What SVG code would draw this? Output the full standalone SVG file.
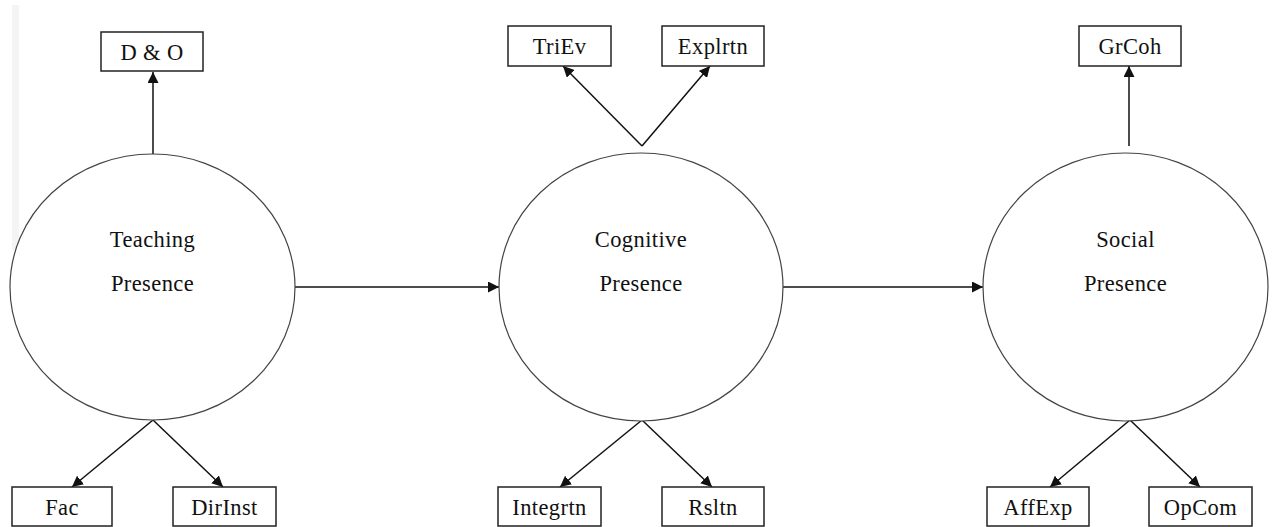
<svg xmlns="http://www.w3.org/2000/svg" width="1273" height="527" viewBox="0 0 1273 527">
<style>
.box{fill:#fff;stroke:#222;stroke-width:1.5}
.circ{fill:#fff;stroke:#444;stroke-width:1.2}
.lbl{font-family:"Liberation Serif","Times New Roman",serif;font-size:22.5px;letter-spacing:0.4px;fill:#111;text-anchor:middle}
.cn{stroke:#111;stroke-width:1.5;fill:none;marker-end:url(#ah)}
</style>
<defs>
<marker id="ah" viewBox="0 0 10 10" refX="10" refY="5" markerWidth="11" markerHeight="11" markerUnits="userSpaceOnUse" orient="auto">
<path d="M0,0 L10,5 L0,10 z" fill="#111"/>
</marker>
</defs>
<rect x="12" y="5" width="7" height="245" fill="#f4f4f4"/>
<g id="connectors">
<line class="cn" x1="153" y1="154" x2="153" y2="72"/>
<line class="cn" x1="642" y1="146" x2="563" y2="66"/>
<line class="cn" x1="642" y1="146" x2="710" y2="66"/>
<line class="cn" x1="1129" y1="146" x2="1129" y2="66"/>
<line class="cn" x1="153" y1="420" x2="72" y2="487"/>
<line class="cn" x1="153" y1="420" x2="223" y2="487"/>
<line class="cn" x1="642" y1="420" x2="560" y2="487"/>
<line class="cn" x1="642" y1="420" x2="712" y2="487"/>
<line class="cn" x1="1130" y1="420" x2="1050" y2="487"/>
<line class="cn" x1="1130" y1="420" x2="1200" y2="487"/>
<line class="cn" x1="295" y1="287" x2="499" y2="287"/>
<line class="cn" x1="783" y1="287" x2="983" y2="287"/>
</g>
<g id="teaching">
<ellipse class="circ" cx="152.5" cy="287" rx="142.5" ry="133"/>
<text class="lbl" x="152.5" y="247">Teaching</text>
<text class="lbl" x="152.5" y="291">Presence</text>
</g>
<g id="cognitive">
<ellipse class="circ" cx="641" cy="287" rx="142" ry="134"/>
<text class="lbl" x="641" y="247">Cognitive</text>
<text class="lbl" x="641" y="291">Presence</text>
</g>
<g id="social">
<ellipse class="circ" cx="1125.5" cy="287" rx="142.5" ry="134"/>
<text class="lbl" x="1125.5" y="247">Social</text>
<text class="lbl" x="1125.5" y="291">Presence</text>
</g>
<g id="do"><rect class="box" x="101" y="32" width="102" height="39"/><text class="lbl" x="152" y="60">D &amp; O</text></g>
<g id="triev"><rect class="box" x="508" y="26" width="103" height="40"/><text class="lbl" x="559.5" y="54">TriEv</text></g>
<g id="explrtn"><rect class="box" x="662" y="26" width="102" height="40"/><text class="lbl" x="713" y="54">Explrtn</text></g>
<g id="grcoh"><rect class="box" x="1079" y="26" width="102" height="40"/><text class="lbl" x="1130" y="54">GrCoh</text></g>
<g id="fac"><rect class="box" x="12" y="487" width="100" height="39"/><text class="lbl" x="62" y="515">Fac</text></g>
<g id="dirinst"><rect class="box" x="173" y="487" width="103" height="39"/><text class="lbl" x="224.5" y="515">DirInst</text></g>
<g id="integrtn"><rect class="box" x="498" y="487" width="103" height="39"/><text class="lbl" x="549.5" y="515">Integrtn</text></g>
<g id="rsltn"><rect class="box" x="662" y="487" width="102" height="39"/><text class="lbl" x="713" y="515">Rsltn</text></g>
<g id="affexp"><rect class="box" x="987" y="487" width="102" height="39"/><text class="lbl" x="1038" y="515">AffExp</text></g>
<g id="opcom"><rect class="box" x="1149" y="487" width="103" height="39"/><text class="lbl" x="1200.5" y="515">OpCom</text></g>
</svg>
